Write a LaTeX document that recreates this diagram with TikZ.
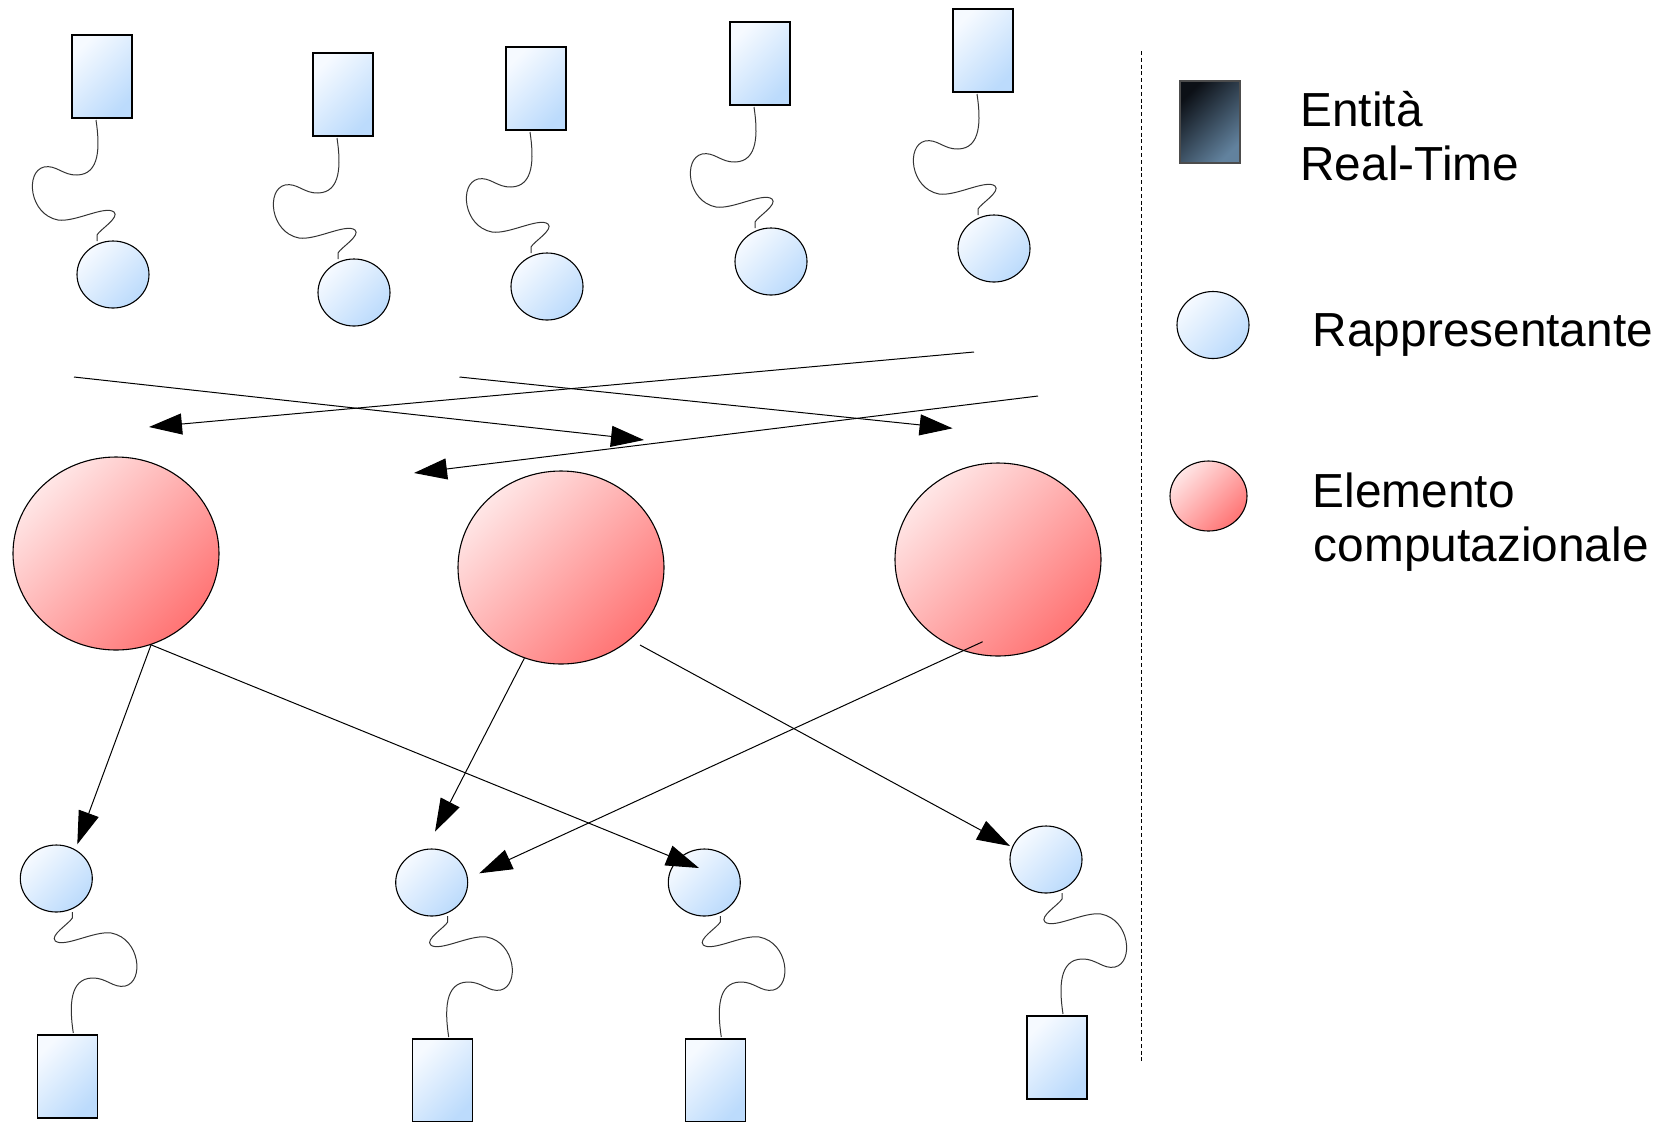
\documentclass[tikz,border=0pt]{standalone}
\usepackage{fontspec}
\newfontfamily\legfont{Liberation Sans}
\usetikzlibrary{shapes.geometric,arrows.meta}
\definecolor{bluelt}{RGB}{246,250,255}
\definecolor{bluedk}{RGB}{188,219,252}
\definecolor{redlt}{RGB}{255,230,230}
\definecolor{reddk}{RGB}{255,116,116}
\definecolor{navylt}{RGB}{12,16,22}
\definecolor{navydk}{RGB}{98,130,158}
\tikzset{
  entity/.style={rectangle, draw=black, line width=0.55pt, minimum width=30pt, minimum height=41.5pt, inner sep=0pt, top color=bluelt, bottom color=bluedk, shading angle=45},
  repr/.style={ellipse, draw=black, line width=0.55pt, minimum width=36pt, minimum height=33.5pt, inner sep=0pt, top color=bluelt, bottom color=bluedk, shading angle=45},
  comp/.style={ellipse, draw=black, line width=0.55pt, minimum width=103pt, minimum height=96.5pt, inner sep=0pt, top color=redlt, bottom color=reddk, shading angle=45},
  rtentity/.style={rectangle, draw=black!70, line width=0.55pt, minimum width=30pt, minimum height=41pt, inner sep=0pt, top color=navylt, bottom color=navydk, shading angle=45},
  link/.style={line width=0.5pt, -{Triangle[length=16.5pt,width=10.5pt]}},
  wire/.style={line width=0.5pt, draw=black!80},
  sepline/.style={dash pattern=on 2pt off 1.4pt, line width=0.6pt},
  legtext/.style={anchor=base west, inner sep=0pt, font=\legfont\fontsize{23.9}{28}\selectfont},
  wiggle/.pic={
    \draw[wire] (-17,-154.5) .. controls (-13,-128) and (-13,-100) .. (-36,-99.5)
      .. controls (-50,-99) and (-57,-110) .. (-69,-107.5)
      .. controls (-88,-103) and (-84,-60) .. (-55,-54.5)
      .. controls (-38,-52) and (-8,-69.5) .. (1,-62.5)
      .. controls (7,-57) and (-13,-45) .. (-16,-39.5)
      -- (-16,-33.5);
  }
}
\begin{document}
\begin{tikzpicture}[x=0.5pt,y=-0.5pt]
\useasboundingbox (0,0) rectangle (1672,1121);

% top entities and representatives
\node[entity] (tr1) at (102,76.5) {};
\node[entity] (tr2) at (343,94.5) {};
\node[entity] (tr3) at (536,88.5) {};
\node[entity] (tr4) at (760,63.5) {};
\node[entity] (tr5) at (983,50.5) {};
\node[repr] (tc1) at (113,274.5) {};
\node[repr] (tc2) at (354,292.5) {};
\node[repr] (tc3) at (547,286.5) {};
\node[repr] (tc4) at (771,261.5) {};
\node[repr] (tc5) at (994,248.5) {};
\foreach \c in {tc1,tc2,tc3,tc4,tc5} {\pic at (\c.center) {wiggle};}

% computational elements
\node[comp] (ce1) at (116,553.5) {};
\node[comp] (ce2) at (561,567.5) {};
\node[comp] (ce3) at (998,559.5) {};

% bottom representatives and entities
\node[repr] (bc1) at (56.3,878.5) {};
\node[repr] (bc2) at (431.7,882.5) {};
\node[repr] (bc3) at (704.3,882.5) {};
\node[repr] (bc4) at (1046,859.5) {};
\node[entity] (br1) at (67.3,1076.5) {};
\node[entity] (br2) at (442.7,1080.5) {};
\node[entity] (br3) at (715.3,1080.5) {};
\node[entity] (br4) at (1057,1057.5) {};
\foreach \c in {bc1,bc2,bc3,bc4} {\pic[rotate=180] at (\c.center) {wiggle};}

% upper arrows (free ends)
\coordinate (u1s) at (74,377);    \coordinate (u1e) at (644,440);
\coordinate (u2s) at (974,352);   \coordinate (u2e) at (149,427);
\coordinate (u3s) at (459.5,377); \coordinate (u3e) at (952.6,428.3);
\coordinate (u4s) at (1038,396);  \coordinate (u4e) at (414,473);
\draw[link] (u1s) -- (u1e);
\draw[link] (u2s) -- (u2e);
\draw[link] (u3s) -- (u3e);
\draw[link] (u4s) -- (u4e);

% lower arrows
\coordinate (a1e) at (77.3,844.3);
\coordinate (a2e) at (699,868);
\coordinate (a3e) at (435,831.7);
\coordinate (a4s) at (640,645);   \coordinate (a4e) at (1010,846);
\coordinate (a5s) at (982.7,641.7); \coordinate (a5e) at (479.3,873.3);
\draw[link] (ce1.-69) -- (a1e);
\draw[link] (ce1.-69) -- (a2e);
\draw[link] (ce2.-112) -- (a3e);
\draw[link] (a4s) -- (a4e);
\draw[link] (a5s) -- (a5e);

% separator
\draw[sepline] (1141.7,51) -- (1141.7,1063);

% legend
\node[rtentity] (lg1) at (1210,122) {};
\node[repr] (lg2) at (1213,325) {};
\node[comp, minimum width=38.5pt, minimum height=35pt] (lg3) at (1208.5,496) {};
\node[legtext] (lt1a) at (1300,126.8) {Entità};
\node[legtext] (lt1b) at (1300,180.4) {Real-Time};
\node[legtext] (lt2) at (1312.5,346.4) {Rappresentante};
\node[legtext] (lt3a) at (1312.5,507.9) {Elemento};
\node[legtext] (lt3b) at (1313.5,561.4) {computazionale};
\end{tikzpicture}
\end{document}
